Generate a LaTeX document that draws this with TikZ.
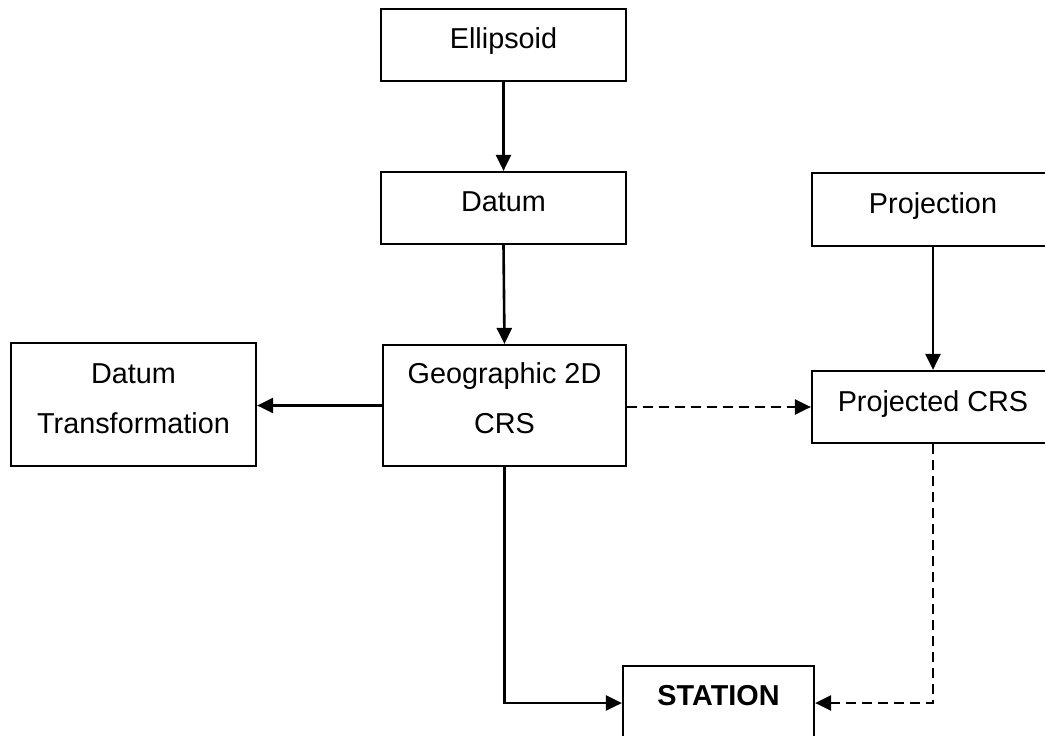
\documentclass[tikz,border=0pt]{standalone}
\usepackage{fontspec}
\setmainfont{Liberation Sans}
\usetikzlibrary{arrows.meta}
\newcommand\bt[2]{\makebox[0pt]{\raisebox{#1}[0pt][0pt]{#2}}}
\tikzset{
  box/.style={draw, line width=2.2pt, rectangle, inner sep=0pt, font=\fontsize{28.8}{34}\selectfont},
  conn/.style={line width=2.6pt, -{Triangle[length=16pt,width=15pt]}},
  dconn/.style={conn, dash pattern=on 10pt off 6pt},
}
\begin{document}
\begin{tikzpicture}[x=1pt,y=-1pt]
\useasboundingbox (0,0) rectangle (1045,736);
\node[box, minimum width=245pt, minimum height=72pt] (ell) at (503.5,45) {\bt{-3pt}{Ellipsoid}};
\node[box, minimum width=245pt, minimum height=72pt] (datum) at (503.5,208) {\bt{-3pt}{Datum}};
\node[box, minimum width=243pt, minimum height=121pt] (geo) at (504.5,405.5) {\bt{22.5pt}{Geographic 2D}\bt{-27.5pt}{CRS}};
\node[box, minimum width=245pt, minimum height=123pt] (dt) at (133.5,404.5) {\bt{21.5pt}{Datum}\bt{-28.5pt}{Transformation}};
\node[box, minimum width=242pt, minimum height=73pt] (proj) at (933,209.5) {\bt{-3.5pt}{Projection}};
\node[box, minimum width=242pt, minimum height=72pt] (pcrs) at (933,407) {\bt{-4.5pt}{Projected CRS}};
\node[box, minimum width=191pt, minimum height=74pt] (station) at (718.5,703) {\bt{-2pt}{\bfseries STATION}};
\draw[conn] (ell) -- (datum);
\draw[conn] (datum.south) -- (geo.north);
\draw[conn] (proj) -- (pcrs);
\draw[conn] (geo.west) -- (geo.west -| dt.east);
\draw[dconn] (geo.east |- pcrs.west) -- (pcrs.west);
\draw[conn] (geo.south) |- (station.west);
\draw[dconn] (pcrs.south) |- (station.east);
\end{tikzpicture}
\end{document}
